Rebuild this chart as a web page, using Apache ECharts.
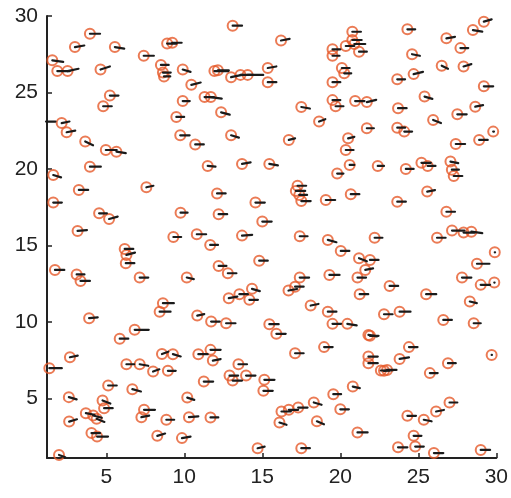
<!DOCTYPE html>
<html>
<head>
<meta charset="utf-8">
<script src="https://cdn.jsdelivr.net/npm/echarts@6/dist/echarts.min.js"></script>
<style>
  html, body { margin: 0; padding: 0; background: #fff; }
  #chart { width: 511px; height: 498px; }
</style>
</head>
<body>
<div id="chart"></div>
<script>
// Sample positions (x, y) and vector components (u, v) for the quiver field
const xs = [3.95,2.99,5.55,7.4,8.9,1.54,1.86,2.52,4.63,8.5,8.63,8.7,5.23,4.8,1.14,2.14,2.46,3.65,4.97,5.65,3.95,
  13.1,16.2,19.5,19.5,9.23,9.9,11.93,12.15,13.0,13.6,14.06,15.35,15.35,10.45,11.3,11.7,9.9,12.36,9.49,17.5,18.64,19.5,19.5,19.7,9.74,10.7,13.0,16.7,11.5,13.7,15.45,
  20.77,20.77,20.35,20.9,21.2,20.1,20.25,24.3,26.8,28.5,29.2,27.7,24.6,24.7,23.65,26.5,27.9,29.2,25.4,23.7,28.65,25.95,27.5,20.95,21.7,21.7,23.65,24.1,20.5,20.35,27.4,28.9,29.8,20.6,22.4,24.2,25.2,25.6,27.06,27.15,27.27,19.8,
  1.6,3.24,1.6,7.57,4.54,5.18,3.16,6.18,6.29,6.25,1.71,3.1,3.35,7.14,3.9,6.82,5.86,8.63,8.42,
  9.3,12.1,14.56,9.76,12.2,15.0,17.26,17.15,17.37,17.5,19.07,10.8,11.66,13.7,17.4,19.2,14.8,12.2,12.79,10.16,17.4,19.3,16.68,17.1,14.34,13.53,12.85,14.17,18.1,19.2,19.5,10.83,11.72,12.68,15.45,15.9,
  20.67,23.65,25.57,26.8,27.16,27.9,28.4,26.2,22.2,29.9,20.03,21.2,21.9,21.6,21.1,28.76,27.8,29.0,29.87,23.16,21.24,25.5,28.3,22.8,23.8,26.6,28.55,20.45,21.8,
  2.67,1.35,6.29,7.14,8.0,8.57,8.95,5.12,6.67,2.6,4.76,4.86,3.69,4.16,4.38,2.62,7.42,7.25,8.85,4.05,4.41,8.27,1.97,
  9.27,10.9,11.68,11.83,17.1,18.96,13.47,12.9,13.1,13.96,15.13,15.07,11.25,10.19,19.55,18.3,16.23,16.7,17.3,16.1,18.5,10.3,11.68,9.85,14.7,17.5,
  21.9,24.4,21.8,21.8,23.8,22.6,23.0,22.8,26.9,25.74,29.7,20.8,20.0,24.3,25.35,26.14,27.0,21.1,24.7,23.7,24.8,26.0,29.0];
const ys = [28.84,27.97,27.97,27.4,28.2,27.1,26.4,26.4,26.5,26.8,26.3,26.05,24.8,24.1,23.1,23.0,22.4,21.8,21.24,21.13,20.15,
  29.37,28.4,27.82,27.4,28.25,26.5,26.4,26.45,26.0,26.15,26.15,26.6,25.67,25.5,24.7,24.7,24.44,23.7,23.4,24.05,23.1,25.67,24.5,24.1,22.2,21.6,22.2,21.9,20.2,20.33,20.33,
  28.97,28.43,28.04,28.17,27.67,26.6,26.25,29.13,28.54,29.08,29.63,27.9,27.5,26.2,25.86,26.75,26.7,25.4,24.73,23.97,24.07,23.2,23.57,24.44,24.37,22.66,22.7,22.44,22.0,21.24,21.63,21.9,22.44,20.26,20.2,20.0,20.4,20.2,20.48,19.95,19.54,19.7,
  19.6,18.63,17.8,18.8,17.1,16.73,15.95,14.77,14.38,13.84,13.4,13.1,12.68,12.9,10.24,9.48,8.9,11.22,10.67,
  15.55,18.4,17.8,17.14,17.04,16.56,18.9,18.56,18.3,17.9,17.97,15.73,15.03,15.64,15.6,15.36,14.0,13.66,13.18,12.9,12.9,13.07,12.05,12.3,12.16,11.81,11.55,11.44,11.07,10.67,9.87,10.41,10.02,9.91,9.85,9.22,
  18.35,17.86,18.52,17.2,15.97,15.84,15.9,15.5,15.5,14.55,14.64,14.16,14.05,13.4,12.9,13.8,12.9,12.42,12.57,12.35,11.81,11.81,11.33,10.5,10.67,10.13,9.91,9.87,9.15,
  7.69,6.97,7.23,7.23,6.75,7.9,6.8,5.84,5.6,5.08,4.86,4.36,4.03,3.88,3.66,3.48,4.25,3.77,3.6,2.73,2.5,2.55,1.3,
  7.89,7.89,8.17,7.47,7.95,8.35,7.23,6.49,6.16,6.49,6.21,5.49,6.1,5.05,5.27,4.73,4.14,4.25,4.4,3.42,3.5,3.77,3.75,2.4,1.74,1.74,
  9.09,8.35,7.73,7.3,7.58,6.82,6.86,6.8,7.3,6.65,7.84,5.77,4.28,3.86,3.6,4.14,4.73,2.77,2.55,1.8,1.85,1.42,1.63];
const us = [.65,.6,.6,.65,.6,.7,.8,.7,.6,.5,.5,.4,.55,.55,.6,.5,.55,.5,.7,.6,.7,
  .6,.55,.5,.45,.6,.5,.9,.7,.7,.8,1.0,.55,.55,.6,.6,.7,.45,.55,.5,.55,.4,.5,.5,.5,.6,.55,.5,.4,.5,.55,.55,
  .55,.6,.55,.7,.5,.5,.45,.5,.55,.6,.5,.5,.5,.6,.5,.4,.5,.6,.5,.55,.5,.5,.6,.6,.6,.45,.5,.5,.4,.5,.6,.55,.05,.3,.4,.5,.6,.5,.5,.45,.55,.4,
  .5,.6,.55,.45,.5,.55,.6,.55,.55,.55,.6,.5,.6,.55,.55,.9,.55,.7,.7,
  .5,.55,.6,.45,.55,.6,.55,.6,.5,.6,.6,.6,.5,.65,.5,.55,.55,.5,.55,.45,.6,.65,.55,.55,.5,.55,.55,.55,.5,.55,.55,.45,.55,.6,.6,.6,
  .55,.55,.5,.55,.8,.7,.7,.55,.5,.02,.55,.5,.55,.5,.55,.8,.6,.6,.02,.55,.55,.65,.45,.55,.7,.55,.45,.6,.55,
  .5,.8,.5,.55,.4,.4,.5,.55,.55,.5,.5,.55,.55,.55,.5,.5,.7,.5,.5,.55,.7,.5,.4,
  .5,.6,.65,.5,.55,.55,.55,.55,.6,.6,.65,.6,.6,.45,.5,.5,.6,.6,.6,.45,.45,.6,.5,.55,.45,.55,
  .55,.55,.6,.6,.6,.55,.6,.6,.5,.5,.02,.45,.55,.55,.5,.5,.5,.65,.5,.6,.55,.6,.6];
const vs = [0,.1,-.1,0,0,-.1,0,.15,.2,0,0,0,0,0,0,.1,.1,-.25,0,-.1,0,
  0,.1,0,0,0,-.15,0,0,.15,0,0,.1,0,.15,0,-.1,0,-.15,0,-.1,.15,0,0,0,0,0,-.15,.1,-.05,.1,-.1,
  0,0,0,0,0,0,0,0,.1,-.1,.15,0,-.1,.15,0,-.2,.15,0,-.15,0,.1,-.2,0,0,.15,0,0,0,.1,0,0,0,0,0,0,0,0,0,-.1,0,0,0,
  -.15,0,0,.1,0,.15,.05,0,.15,0,0,0,0,0,.05,0,0,0,0,
  0,0,0,0,0,0,0,0,0,0,0,0,0,.05,0,-.15,0,0,0,-.1,0,0,.1,0,-.15,0,.1,0,.1,0,0,.1,0,0,0,0,
  0,0,.1,0,0,0,-.1,0,0,0,0,-.2,0,.1,0,0,0,0,0,0,0,0,-.1,0,0,0,0,-.1,-.1,
  .1,0,0,-.1,.15,.15,0,0,-.15,-.15,-.2,0,-.1,-.15,-.2,.15,0,.1,0,0,0,.15,-.15,
  -.15,0,0,.1,0,0,0,0,0,0,0,0,0,-.15,0,-.15,0,0,0,-.15,-.2,.05,0,.1,.1,0,
  0,0,0,0,.1,0,0,.05,0,0,0,-.1,0,0,-.1,.1,0,0,0,0,0,0,0];

const tickValues = [5, 10, 15, 20, 25, 30];
const xRange = [1.2, 30];
const yRange = [1.1, 30];

const points = xs.map((x, i) => [x, ys[i]]);
const vectors = xs.map((x, i) => [x, ys[i], us[i], vs[i]]);

const labelFont = {
  fontFamily: 'Liberation Sans, Arial, sans-serif',
  fontSize: 21,
  color: '#222'
};

function axisCommon(range) {
  return {
    type: 'value',
    min: range[0],
    max: range[1],
    splitLine: { show: false },
    axisLine: { show: true, onZero: false, lineStyle: { color: '#222', width: 2 } },
    axisTick: { show: true, inside: true, length: 5, customValues: tickValues,
                lineStyle: { color: '#222', width: 1.5 } },
    axisLabel: Object.assign({ margin: 9, customValues: tickValues,
      formatter: v => (tickValues.indexOf(v) >= 0 ? String(v) : '') }, labelFont)
  };
}

const chart = echarts.init(document.getElementById('chart'), null, { renderer: 'canvas' });
chart.setOption({
  animation: false,
  backgroundColor: '#fff',
  grid: { left: 47, right: 14, top: 16, bottom: 40, containLabel: false },
  xAxis: axisCommon(xRange),
  yAxis: axisCommon(yRange),
  series: [
    {
      type: 'scatter',
      data: points,
      symbol: 'circle',
      symbolSize: 10,
      itemStyle: { color: 'rgba(0,0,0,0)', borderColor: '#e65a2a', borderWidth: 2 },
      z: 2
    },
    {
      type: 'custom',
      data: vectors,
      z: 3,
      renderItem: function (params, api) {
        const x = api.value(0), y = api.value(1), u = api.value(2), v = api.value(3);
        const p0 = api.coord([x, y]);
        const p1 = api.coord([x + u, y + v]);
        return {
          type: 'line',
          shape: { x1: p0[0], y1: p0[1], x2: p1[0], y2: p1[1] },
          style: { stroke: '#1a1a1a', lineWidth: 2.2, lineCap: 'round' }
        };
      }
    }
  ]
});
</script>
</body>
</html>
